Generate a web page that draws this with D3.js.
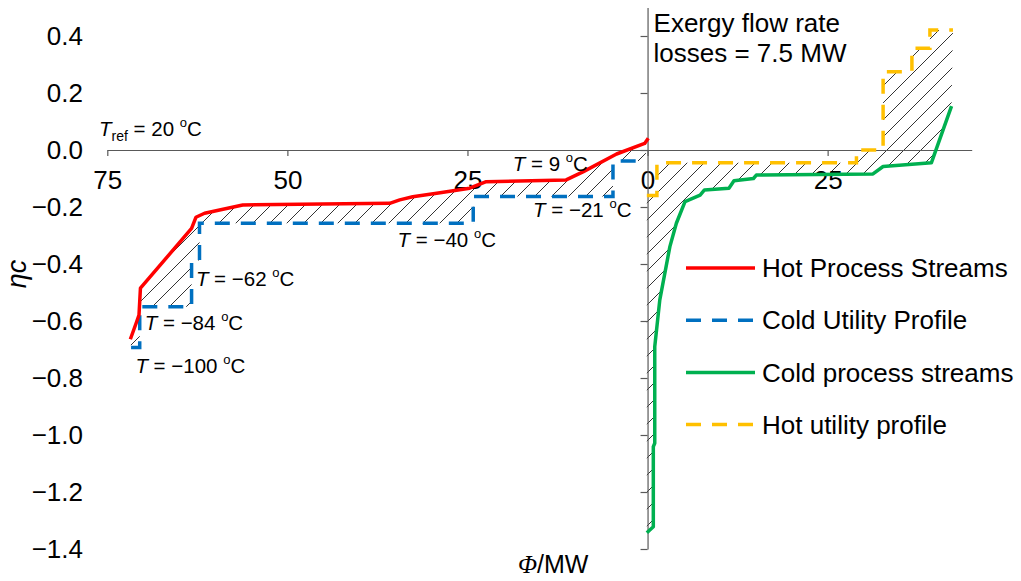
<!DOCTYPE html>
<html>
<head>
<meta charset="utf-8">
<script src="https://cdn.jsdelivr.net/npm/d3@7"></script>
<style>
  html, body { margin: 0; padding: 0; background: #fff; }
  svg { display: block; font-family: "Liberation Sans", Arial, sans-serif; }
</style>
</head>
<body>
<div id="chart"></div>
<script>
// --- data (Phi in MW, negative = hot side drawn to the left; eta = Carnot factor) ---
const hotPhi  = [-71.8, -71.0, -70.6, -70.4, -63.3, -62.7, -61.5, -56.2, -35.8, -34.4, -32.6, -28.8, -24.7, -22.4, -11.3, -8.9, -4.3, -0.4, 0.1];
const hotEta  = [-0.664, -0.608, -0.579, -0.485, -0.275, -0.236, -0.222, -0.193, -0.187, -0.175, -0.164, -0.150, -0.134, -0.111, -0.105, -0.076, -0.014, 0.023, 0.041];

const coldUtilPhi = [-71.7, -70.5, -70.5, -63.3, -63.3, -62.2, -62.2, -24.2, -24.2, -4.8, -4.8, -0.4];
const coldUtilEta = [-0.693, -0.693, -0.550, -0.550, -0.388, -0.388, -0.257, -0.257, -0.163, -0.163, -0.039, -0.039];

const coldPhi = [-0.1, 0.8, 0.8, 1.0, 1.0, 1.7, 3.1, 4.0, 5.2, 7.3, 7.9, 11.3, 12.0, 14.7, 15.1, 31.3, 32.7, 39.4, 42.2];
const coldEta = [-1.343, -1.322, -1.041, -1.029, -0.690, -0.526, -0.339, -0.257, -0.181, -0.158, -0.140, -0.134, -0.108, -0.100, -0.088, -0.084, -0.058, -0.045, 0.154];

const hotUtilPhi = [-0.1, 1.3, 1.3, 29.0, 29.0, 32.7, 32.7, 36.7, 36.7, 39.2, 39.2, 42.4];
const hotUtilEta = [-0.160, -0.160, -0.045, -0.045, 0.0, 0.0, 0.275, 0.275, 0.357, 0.357, 0.421, 0.421];

const xTicks = [-75, -50, -25, 0, 25];
const yTicks = [-1.4, -1.2, -1.0, -0.8, -0.6, -0.4, -0.2, 0.0, 0.2, 0.4];

const seriesNames = ["Hot Process Streams", "Cold Utility Profile", "Cold process streams", "Hot utility profile"];

// temperature labels: value in degC, anchor in chart units
const tempValues = [9, -21, -40, -62, -84, -100];
const tempPhi    = [-18.7, -15.9, -34.7, -62.7, -69.8, -71.1];
const tempEta    = [-0.073, -0.236, -0.339, -0.477, -0.632, -0.781];
const tRef = 20;
const lossesMW = 7.5;

const zip = (a, b) => a.map((v, i) => [v, b[i]]);
const hot = zip(hotPhi, hotEta);
const coldUtil = zip(coldUtilPhi, coldUtilEta);
const cold = zip(coldPhi, coldEta);
const hotUtil = zip(hotUtilPhi, hotUtilEta);

const W = 1021, H = 581;
const svg = d3.select("#chart").append("svg").attr("width", W).attr("height", H);

const x = d3.scaleLinear().domain([-75, 45]).range([107.3, 971.7]);
const y = d3.scaleLinear().domain([-1.4, 0.5]).range([549, 7.5]);

const colors = { hot: "#ff0000", coldUtil: "#0070c0", cold: "#00b050", hotUtil: "#ffc000" };
const dash = "15,11";

// hatch pattern
const defs = svg.append("defs");
const pat = defs.append("pattern")
  .attr("id", "hatch")
  .attr("patternUnits", "userSpaceOnUse")
  .attr("width", 17).attr("height", 17);
pat.append("path")
  .attr("d", "M0,17 L17,0 M-4,4 L4,-4 M13,21 L21,13")
  .attr("stroke", "#000")
  .attr("stroke-width", 0.8);

const line = d3.line().x(d => x(d[0])).y(d => y(d[1]));

// hatched areas between hot and cold profiles
svg.append("path")
  .attr("d", line(hot.concat(coldUtil.slice().reverse())) + "Z")
  .attr("fill", "url(#hatch)");
svg.append("path")
  .attr("d", line(hotUtil.concat(cold.slice().reverse())) + "Z")
  .attr("fill", "url(#hatch)");

// --- axes ---
const axisColor = "#595959";
const fontSize = 26;

const gx = svg.append("g")
  .attr("transform", `translate(0,${y(0)})`)
  .call(d3.axisBottom(x).tickValues(xTicks).tickFormat(d => Math.abs(d)).tickSize(6).tickSizeOuter(0).tickPadding(15));

const gy = svg.append("g")
  .attr("transform", `translate(${x(0)},0)`)
  .call(d3.axisLeft(y).tickValues(yTicks).tickFormat(d3.format(".1f")).tickSize(7).tickSizeOuter(0).tickPadding(x(0) - 7 - 83));

[gx, gy].forEach(g => {
  g.attr("font-family", null).attr("font-size", null);
  g.select(".domain").attr("stroke", axisColor).attr("stroke-width", 1.2);
  g.selectAll(".tick line").attr("stroke", axisColor).attr("stroke-width", 1.2);
  g.selectAll(".tick text").attr("fill", "#000").style("font-size", fontSize + "px");
});

// --- profiles ---
svg.append("path").datum(coldUtil)
  .attr("d", line).attr("fill", "none")
  .attr("stroke", colors.coldUtil).attr("stroke-width", 3.5).attr("stroke-dasharray", dash);
svg.append("path").datum(hot)
  .attr("d", line).attr("fill", "none")
  .attr("stroke", colors.hot).attr("stroke-width", 3.5).attr("stroke-linejoin", "round");
svg.append("path").datum(hotUtil)
  .attr("d", line).attr("fill", "none")
  .attr("stroke", colors.hotUtil).attr("stroke-width", 3.5).attr("stroke-dasharray", dash);
svg.append("path").datum(cold)
  .attr("d", line).attr("fill", "none")
  .attr("stroke", colors.cold).attr("stroke-width", 3.5).attr("stroke-linejoin", "round");

// --- temperature annotations ---
const annSize = 20.5;
function tempText(px, py, value, sub) {
  const t = svg.append("text").attr("x", px).attr("y", py).style("font-size", annSize + "px").attr("fill", "#000");
  t.append("tspan").style("font-style", "italic").text("T");
  if (sub) t.append("tspan").attr("dy", 5).style("font-size", "14px").text(sub);
  const v = (value < 0 ? "\u2212" + Math.abs(value) : value);
  t.append("tspan").attr("dy", sub ? -5 : 0).text(" = " + v + " ");
  t.append("tspan").attr("dy", -9).style("font-size", "13px").text("o");
  t.append("tspan").attr("dy", 9).text("C");
}
tempValues.forEach((v, i) => tempText(x(tempPhi[i]), y(tempEta[i]), v));
tempText(99, 136, tRef, "ref");

// exergy loss note
svg.append("text").attr("x", x(0) + 6).attr("y", 31.7)
  .style("font-size", fontSize + "px").text("Exergy flow rate");
svg.append("text").attr("x", x(0) + 6).attr("y", 61.7)
  .style("font-size", fontSize + "px").text("losses = " + lossesMW + " MW");

// axis titles
svg.append("text")
  .attr("transform", "translate(26,274) rotate(-90)")
  .attr("text-anchor", "middle")
  .style("font-size", "27px").style("font-style", "italic")
  .text("\u03b7c");

const xt = svg.append("text").attr("x", 518).attr("y", 573).style("font-size", "25px");
xt.append("tspan").style("font-family", "'Liberation Serif', 'Times New Roman', serif").style("font-style", "italic").text("\u03a6");
xt.append("tspan").text("/MW");

// --- legend ---
const legendStyles = [
  { color: colors.hot, dash: null },
  { color: colors.coldUtil, dash: dash },
  { color: colors.cold, dash: null },
  { color: colors.hotUtil, dash: dash }
];
const legend = svg.append("g");
seriesNames.forEach((name, i) => {
  const ly = 268 + i * 52.2;
  legend.append("line")
    .attr("x1", 686).attr("x2", 755).attr("y1", ly).attr("y2", ly)
    .attr("stroke", legendStyles[i].color).attr("stroke-width", 3.5)
    .attr("stroke-dasharray", legendStyles[i].dash);
  legend.append("text")
    .attr("x", 762).attr("y", ly).attr("dy", "0.35em")
    .style("font-size", fontSize + "px").text(name);
});
</script>
</body>
</html>
